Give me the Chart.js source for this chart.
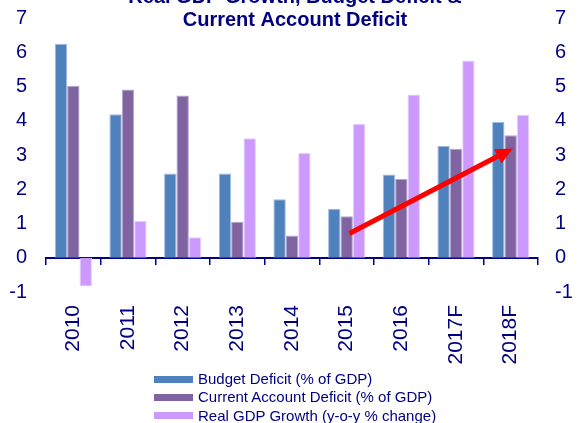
<!DOCTYPE html>
<html>
<head>
<meta charset="utf-8">
<script src="https://cdn.jsdelivr.net/npm/chart.js@4.4.1/dist/chart.umd.min.js"></script>
<style>
  body { margin: 0; background: #fff; }
  #wrap { position: relative; width: 579px; height: 423px; }
  #legenda { position: absolute; left: 154px; top: 370px; font: 15px Arial, "Liberation Sans", sans-serif; color: #000080; }
  #legenda div { height: 18.3px; line-height: 18.3px; white-space: nowrap; }
  #legenda span { display: inline-block; width: 39px; height: 7px; margin-right: 5px; vertical-align: middle; position: relative; top: -1px; }
</style>
</head>
<body>
<div id="wrap">
  <canvas id="grafico" width="579" height="423"></canvas>
  <div id="legenda"></div>
</div>
<script>
const anos = ['2010', '2011', '2012', '2013', '2014', '2015', '2016', '2017F', '2018F'];
const deficitOrcamento = [6.25, 4.19, 2.46, 2.46, 1.71, 1.43, 2.43, 3.27, 3.96];
const deficitContaCorrente = [5.02, 4.91, 4.74, 1.05, 0.65, 1.21, 2.30, 3.18, 3.58];
const crescimentoPib = [-0.84, 1.07, 0.60, 3.49, 3.06, 3.91, 4.77, 5.76, 4.17];
const ticksY = [-1, 0, 1, 2, 3, 4, 5, 6, 7];
const tituloLinhas = ['Real GDP Growth, Budget Deficit &', 'Current Account Deficit'];
// seta vermelha: [indice da categoria, valor]
const setaInicio = [5.05, 0.71];
const setaFim = [8.04, 3.19];

const corTexto = '#000080';
const fonte = 'Arial, "Liberation Sans", sans-serif';

window.onload = function () {
    carregarGrafico();
};

function carregarGrafico() {
    const ctx = document.getElementById('grafico').getContext('2d');

    const pluginExtras = {
        id: 'extras',
        afterDraw: function (chart) {
            const c = chart.ctx;
            const area = chart.chartArea;
            const x = chart.scales.x;
            const y = chart.scales.y;

            // titulo (primeira linha cortada no topo, como no original)
            c.save();
            c.fillStyle = corTexto;
            c.font = 'bold 20px ' + fonte;
            c.textAlign = 'center';
            c.textBaseline = 'alphabetic';
            const cx = (area.left + area.right) / 2 + 3;
            c.fillText(tituloLinhas[0], cx, 3);
            c.fillText(tituloLinhas[1], cx, 26);
            c.restore();

            // seta
            const x1 = x.getPixelForValue(setaInicio[0]);
            const y1 = y.getPixelForValue(setaInicio[1]);
            const x2 = x.getPixelForValue(setaFim[0]);
            const y2 = y.getPixelForValue(setaFim[1]);
            const ang = Math.atan2(y2 - y1, x2 - x1);
            const cab = 17;
            const larg = 8;
            const bx = x2 - cab * Math.cos(ang);
            const by = y2 - cab * Math.sin(ang);

            c.save();
            c.strokeStyle = '#ff0000';
            c.fillStyle = '#ff0000';
            c.lineWidth = 5;
            c.beginPath();
            c.moveTo(x1, y1);
            c.lineTo(bx, by);
            c.stroke();
            c.beginPath();
            c.moveTo(x2, y2);
            c.lineTo(bx + larg * Math.sin(ang), by - larg * Math.cos(ang));
            c.lineTo(bx - larg * Math.sin(ang), by + larg * Math.cos(ang));
            c.closePath();
            c.fill();
            c.restore();
        }
    };

    const semPadding = (s) => { s.paddingTop = 0; s.paddingBottom = 0; s.paddingLeft = 0; s.paddingRight = 0; };

    const eixoY = (posicao, largura, pad) => ({
        position: posicao,
        min: ticksY[0],
        max: ticksY[ticksY.length - 1],
        afterBuildTicks: (s) => { s.ticks = ticksY.map(v => ({ value: v })); },
        afterFit: (s) => { s.width = largura; semPadding(s); },
        grid: { display: false, drawTicks: false },
        border: { display: false },
        ticks: { color: corTexto, font: { family: fonte, size: 20 }, padding: pad }
    });

    const data = {
        labels: anos,
        datasets: [
            { label: 'Budget Deficit (% of GDP)', data: deficitOrcamento, backgroundColor: '#4f81bd', borderColor: '#9fbbe0' },
            { label: 'Current Account Deficit (% of GDP)', data: deficitContaCorrente, backgroundColor: '#8064a2', borderColor: '#b6a4cc' },
            { label: 'Real GDP Growth (y-o-y % change)', data: crescimentoPib, backgroundColor: '#cc99ff', borderColor: '#e6ccff' }
        ].map(d => Object.assign(d, { borderWidth: 1, categoryPercentage: 0.68, barPercentage: 1 }))
    };

    const options = {
        responsive: false,
        animation: false,
        layout: { padding: { top: 18 } },
        plugins: { legend: { display: false }, tooltip: { enabled: false } },
        scales: {
            x: {
                grid: { display: false, drawTicks: false },
                border: { display: false },
                afterFit: (s) => { s.height = 131; semPadding(s); },
                ticks: { color: corTexto, font: { family: fonte, size: 21 }, minRotation: 90, maxRotation: 90, padding: 13, autoSkip: false }
            },
            x2: {
                type: 'category',
                position: { y: 0 },
                offset: true,
                afterFit: semPadding,
                grid: { offset: true, drawOnChartArea: false, drawTicks: true, tickLength: 6, color: corTexto, lineWidth: 1.5 },
                border: { color: corTexto, width: 2 },
                ticks: { display: false }
            },
            y: eixoY('left', 46, 19),
            y2: eixoY('right', 41, 17)
        }
    };

    const grafico = new Chart(ctx, { type: 'bar', data, options, plugins: [pluginExtras] });

    const legenda = document.getElementById('legenda');
    grafico.data.datasets.forEach(ds => {
        const linha = document.createElement('div');
        const cor = document.createElement('span');
        cor.style.background = ds.backgroundColor;
        linha.appendChild(cor);
        linha.appendChild(document.createTextNode(ds.label));
        legenda.appendChild(linha);
    });
}
</script>
</body>
</html>
